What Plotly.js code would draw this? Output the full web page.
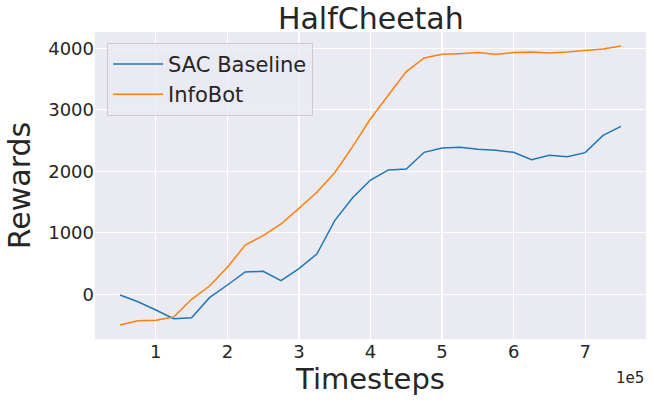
<!DOCTYPE html>
<html>
<head>
<meta charset="utf-8">
<script src="https://cdn.plot.ly/plotly-3.0.1.min.js"></script>
<style>html,body{margin:0;padding:0;background:#fff;}#chart{width:654px;height:403px;}</style>
</head>
<body>
<div id="chart"></div>
<script>
const timesteps = [0.5,0.75,1.0,1.25,1.5,1.75,2.0,2.25,2.5,2.75,3.0,3.25,3.5,3.75,4.0,4.25,4.5,4.75,5.0,5.25,5.5,5.75,6.0,6.25,6.5,6.75,7.0,7.25,7.5];
const sacBaseline = [-10,-120,-255,-396,-380,-54,152,363,374,222,417,656,1198,1570,1859,2022,2038,2309,2379,2390,2358,2341,2309,2190,2260,2238,2304,2585,2732];
const infoBot = [-499,-428,-423,-369,-81,136,439,802,954,1144,1398,1659,1978,2401,2854,3241,3621,3843,3902,3913,3930,3902,3930,3940,3924,3940,3962,3989,4038];
const xTickVals = [1,2,3,4,5,6,7];
const xTickText = ['1','2','3','4','5','6','7'];
const yTickVals = [0,1000,2000,3000,4000];
const yTickText = ['0','1000','2000','3000','4000'];

const font = 'DejaVu Sans, sans-serif';
const traces = [
  {x: timesteps, y: sacBaseline, name: 'SAC Baseline', mode: 'lines', line: {color: '#1f77b4', width: 1.5}},
  {x: timesteps, y: infoBot, name: 'InfoBot', mode: 'lines', line: {color: '#ff7f0e', width: 1.5}}
];
const layout = {
  width: 654, height: 403,
  margin: {l: 95, r: 8, t: 32, b: 64},
  paper_bgcolor: '#ffffff',
  plot_bgcolor: '#EAEAF2',
  font: {family: font, color: '#262626'},
  showlegend: true,
  title: {text: 'HalfCheetah', font: {family: font, size: 30, color: '#262626'}, x: 0.567, xanchor: 'center', y: 0.955, yanchor: 'middle'},
  xaxis: {
    range: [0.15, 7.85], tickvals: xTickVals, ticktext: xTickText,
    showgrid: true, gridcolor: '#ffffff', gridwidth: 1.2, zeroline: false, showline: false,
    ticks: '', tickfont: {family: font, size: 18, color: '#262626'},
    title: {text: 'Timesteps', font: {family: font, size: 29, color: '#262626'}, standoff: 4}
  },
  yaxis: {
    range: [-726, 4265], tickvals: yTickVals, ticktext: yTickText,
    showgrid: true, gridcolor: '#ffffff', gridwidth: 1.2, zeroline: false, showline: false,
    ticks: '', tickfont: {family: font, size: 18, color: '#262626'},
    title: {text: 'Rewards', font: {family: font, size: 30, color: '#262626'}, standoff: 8}
  },
  legend: {
    x: 0.022, y: 0.965, xanchor: 'left', yanchor: 'top',
    bgcolor: 'rgba(234,234,242,0.8)', bordercolor: '#cccccc', borderwidth: 1,
    itemwidth: 50,
    font: {family: font, size: 21, color: '#262626'}
  },
  annotations: [
    {text: '1e5', xref: 'paper', yref: 'paper', x: 1, y: -0.09, xanchor: 'right', yanchor: 'top', showarrow: false, font: {family: font, size: 15, color: '#262626'}}
  ]
};
Plotly.newPlot('chart', traces, layout, {displayModeBar: false, staticPlot: true});
</script>
</body>
</html>
